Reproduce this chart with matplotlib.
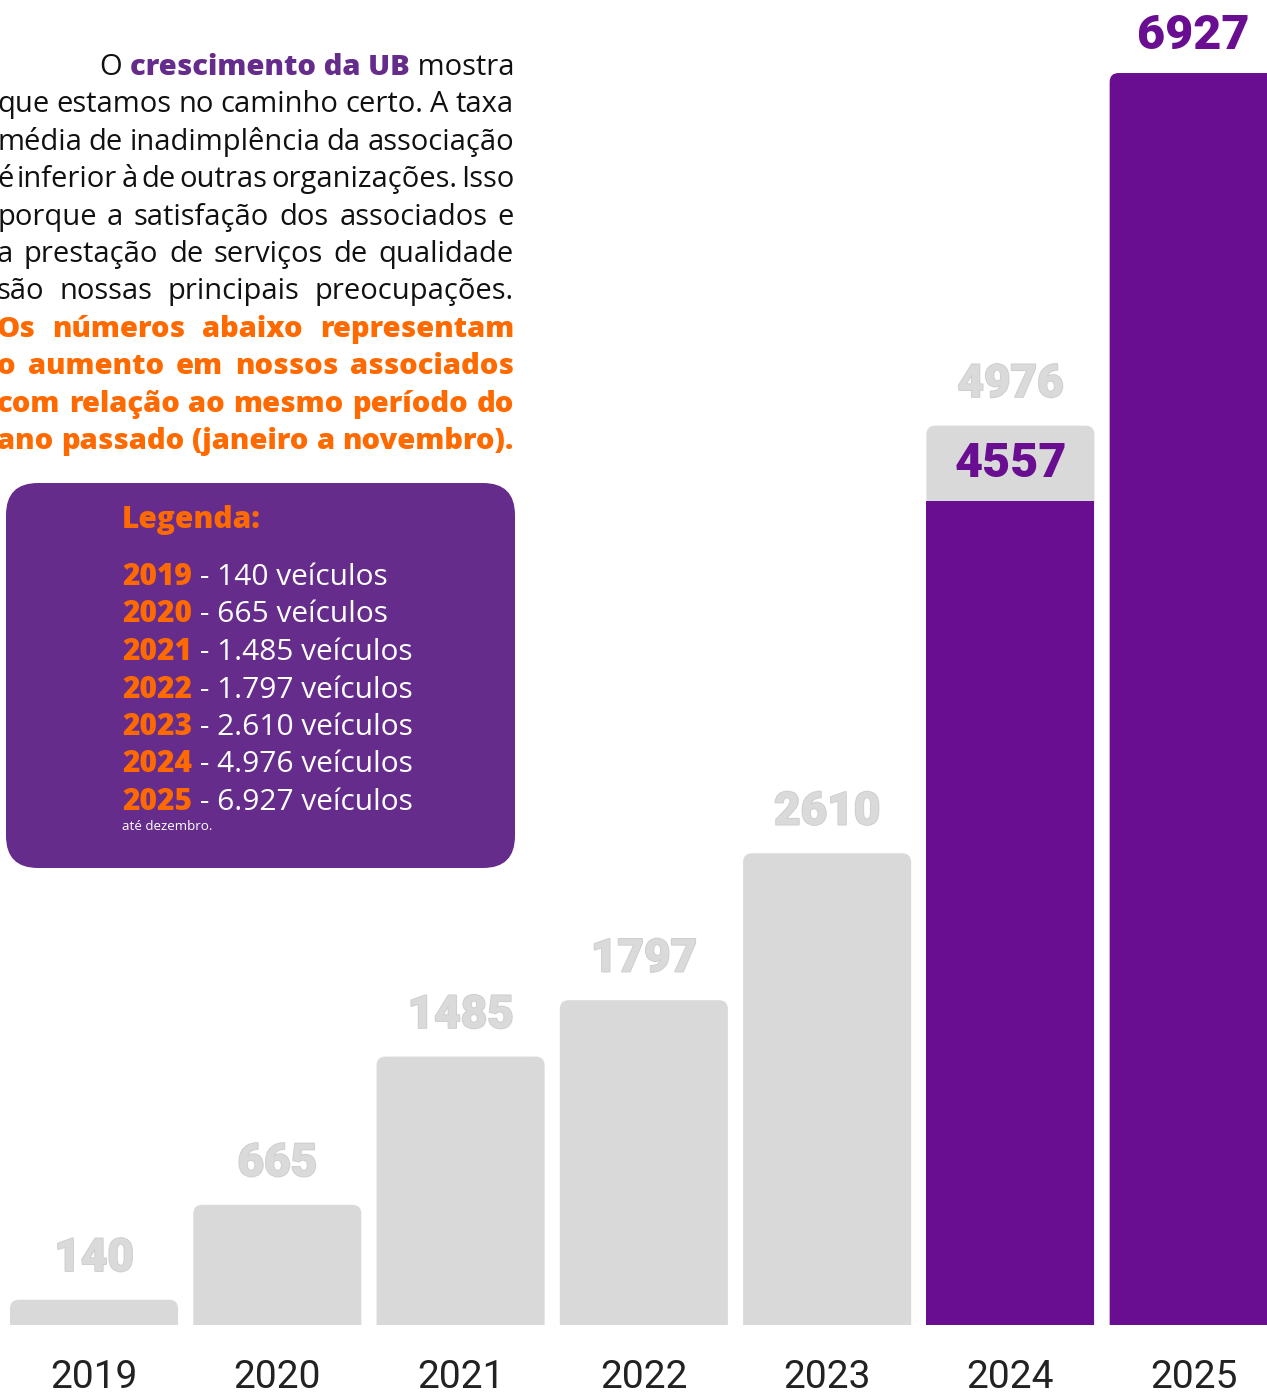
import matplotlib
matplotlib.use('Agg')
import matplotlib.pyplot as plt
import matplotlib.patheffects as pe
from matplotlib.patches import FancyBboxPatch

# dados
anos = ['2019', '2020', '2021', '2022', '2023', '2024', '2025']
veiculos = [140, 665, 1485, 1797, 2610, 4976, 6927]
parcial_2024 = 4557  # janeiro a novembro

legenda_anos = anos
legenda_valores = ['140', '665', '1.485', '1.797', '2.610', '4.976', '6.927']

texto_preto = [
    'que estamos no caminho certo. A taxa',
    'média de inadimplência da associação',
    'é inferior à de outras organizações. Isso',
    'porque a satisfação dos associados e',
    'a prestação de serviços de qualidade',
    'são nossas principais preocupações.',
]
texto_laranja = [
    'Os números abaixo representam',
    'o aumento em nossos associados',
    'com relação ao mesmo período do',
    'ano passado (janeiro a novembro).',
]

CINZA = '#d9d9d9'
ROXO = '#690d91'
ROXO_CAIXA = '#652c8b'
LARANJA = '#ff6a00'

W, H = 1267, 1394
fig = plt.figure(figsize=(W / 100, H / 100), dpi=100)
renderer = fig.canvas.get_renderer()

# eixo das barras (base em y=1325 px, topo em y=0)
ax = fig.add_axes([0, (H - 1325) / H, 1, 1325 / H])
ax.set_xlim(-0.513, 6.40)
ax.set_ylim(0, 7331)
ax.axis('off')

px_x = W / 6.913          # pixels por unidade x
px_y = 1325 / 7331        # pixels por unidade y
raio = 9 / px_x
aspecto = px_x / px_y
largura = 0.917


def barra(ax, x, topo, cor, redondo=True):
    estilo = f'round,pad=0,rounding_size={raio}' if redondo else 'square,pad=0'
    p = FancyBboxPatch((x - largura / 2, -300), largura, topo + 300,
                       boxstyle=estilo, mutation_aspect=aspecto,
                       facecolor=cor, edgecolor='none')
    ax.add_patch(p)


for i, (ano, v) in enumerate(zip(anos, veiculos)):
    if ano == '2025':
        barra(ax, i, v, ROXO)
        ax.annotate(str(v), (i, v), xytext=(0, 27), textcoords='offset points',
                    ha='center', va='center', fontsize=35, family='Roboto',
                    fontweight='heavy', color=ROXO)
    else:
        barra(ax, i, v, CINZA)
        ax.annotate(str(v), (i, v), xytext=(0, 30), textcoords='offset points',
                    ha='center', va='center', fontsize=33, family='Roboto',
                    fontweight='heavy', color='#dadada',
                    path_effects=[pe.withStroke(linewidth=1.3, foreground='#cdcdcd')])
    if ano == '2024':
        barra(ax, i, parcial_2024, ROXO, redondo=False)
        ax.text(i, (v + parcial_2024) / 2, str(parcial_2024), ha='center', va='center',
                fontsize=35, family='Roboto', fontweight='heavy', color=ROXO)
    ax.annotate(ano, (i, 0), xytext=(0, -38), textcoords='offset points',
                ha='center', va='center', fontsize=28, family='Roboto',
                color='#222222', annotation_clip=False)

# camada de texto em pixels
ov = fig.add_axes([0, 0, 1, 1])
ov.set_xlim(0, W)
ov.set_ylim(H, 0)
ov.axis('off')

FS = 21
ESQ, DIR = -3, 514


def justificado(linha, y, **kw):
    palavras = linha.split()
    textos = [ov.text(0, y, p, ha='left', va='baseline', fontsize=FS,
                      family='Open Sans', **kw) for p in palavras]
    larg = [t.get_window_extent(renderer).width for t in textos]
    vao = (DIR - ESQ - sum(larg)) / (len(palavras) - 1)
    x = ESQ
    for t, w in zip(textos, larg):
        t.set_x(x)
        x += w + vao


t = ov.text(DIR, 75, ' mostra', ha='right', va='baseline', fontsize=FS,
            family='Open Sans', color='#111111')
t = ov.annotate('crescimento da UB', (0, 0), xycoords=t, ha='right', va='bottom',
                fontsize=FS, family='Open Sans', fontweight='heavy', color=ROXO_CAIXA)
ov.annotate('O ', (0, 0), xycoords=t, ha='right', va='bottom',
            fontsize=FS, family='Open Sans', color='#111111')

for k, linha in enumerate(texto_preto):
    justificado(linha, 75 + (k + 1) * 37.4, color='#111111')
for k, linha in enumerate(texto_laranja):
    justificado(linha, 75 + (k + 7) * 37.4, color=LARANJA, fontweight='heavy')

# caixa da legenda
FL = 21.5
caixa = FancyBboxPatch((6, 483), 509, 385, boxstyle='round,pad=0,rounding_size=32',
                       facecolor=ROXO_CAIXA, edgecolor='none')
ov.add_patch(caixa)
ov.text(122, 528, 'Legenda:', ha='left', va='baseline', fontsize=FL,
        family='Open Sans', fontweight='heavy', color=LARANJA)
for k, (a, val) in enumerate(zip(legenda_anos, legenda_valores)):
    t = ov.text(122, 585 + k * 37.5, a, ha='left', va='baseline', fontsize=FL,
                family='Open Sans', fontweight='heavy', color=LARANJA)
    ov.annotate(f' - {val} veículos', (1, 0), xycoords=t, ha='left', va='bottom',
                fontsize=FL, family='Open Sans', color='white')
ov.text(122, 830, 'até dezembro.', ha='left', va='baseline', fontsize=9.6,
        family='Open Sans', color='white')

fig.savefig('out.png', dpi=100)
